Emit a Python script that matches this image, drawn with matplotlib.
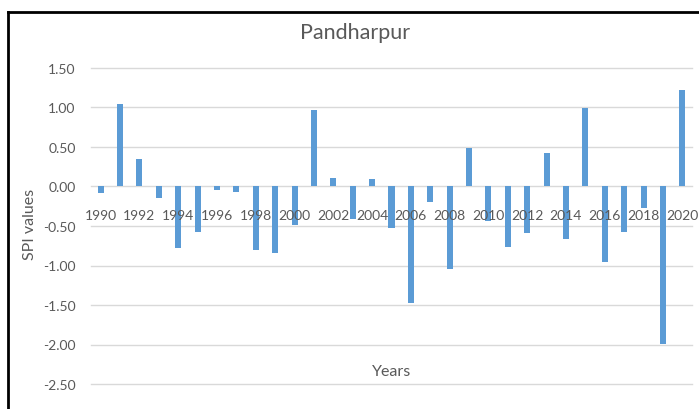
import matplotlib.pyplot as plt
from matplotlib.lines import Line2D

years = list(range(1990, 2021))
spi = [-0.08, 1.04, 0.35, -0.15, -0.78, -0.57, -0.04, -0.07, -0.81, -0.84,
       -0.49, 0.97, 0.11, -0.41, 0.09, -0.53, -1.47, -0.19, -1.05, 0.49,
       -0.44, -0.76, -0.59, 0.42, -0.67, 0.99, -0.95, -0.57, -0.27, -1.99, 1.22]
y_ticks = [1.5, 1.0, 0.5, 0.0, -0.5, -1.0, -1.5, -2.0, -2.5]

plt.rcParams["font.family"] = ["Lato", "DejaVu Sans"]
grey = "#595959"

fig = plt.figure(figsize=(6.99, 4.10), dpi=100)
ax = fig.add_axes([91 / 699, 1 - 385 / 410, 601 / 699, 316 / 410])

x = list(range(len(years)))
ax.bar(x, spi, width=0.31, color="#5B9BD5", zorder=3)

ax.set_xlim(-0.5, len(years) - 0.5)
ax.set_ylim(-2.5, 1.5)
ax.set_yticks(y_ticks)
ax.set_yticklabels([f"{v:.2f}" for v in y_ticks], fontsize=10, color=grey)
ax.tick_params(axis="y", length=0, pad=11)
ax.set_xticks([])
ax.yaxis.grid(True, color="#D9D9D9", linewidth=1, zorder=0)
for line in ax.get_ygridlines():
    line.set_clip_on(False)
for s in ax.spines.values():
    s.set_visible(False)

# year labels sit just under the zero line, every second year
for i, yr in enumerate(years):
    if yr % 2 == 0:
        ax.text(i, -0.36, str(yr), ha="center", va="center",
                fontsize=10, color=grey, zorder=4)

ax.text(0.5, 0.04, "Years", transform=ax.transAxes, ha="center",
        va="center", fontsize=11.5, color=grey)
fig.text(30 / 699, 1 - 224 / 410, "SPI values", rotation=90, ha="center",
         va="center", fontsize=11.5, color=grey)
fig.text(355 / 699, 1 - 33 / 410, "Pandharpur", ha="center", va="center",
         fontsize=15.5, color=grey)

# outer frame of the screenshot
fig.add_artist(Line2D([8 / 699, 1.0], [1 - 12.5 / 410] * 2, color="black",
                      linewidth=2, transform=fig.transFigure))
fig.add_artist(Line2D([8 / 699] * 2, [0.0, 1 - 12.5 / 410], color="black",
                      linewidth=2, transform=fig.transFigure))

fig.savefig("out.png", dpi=100)
